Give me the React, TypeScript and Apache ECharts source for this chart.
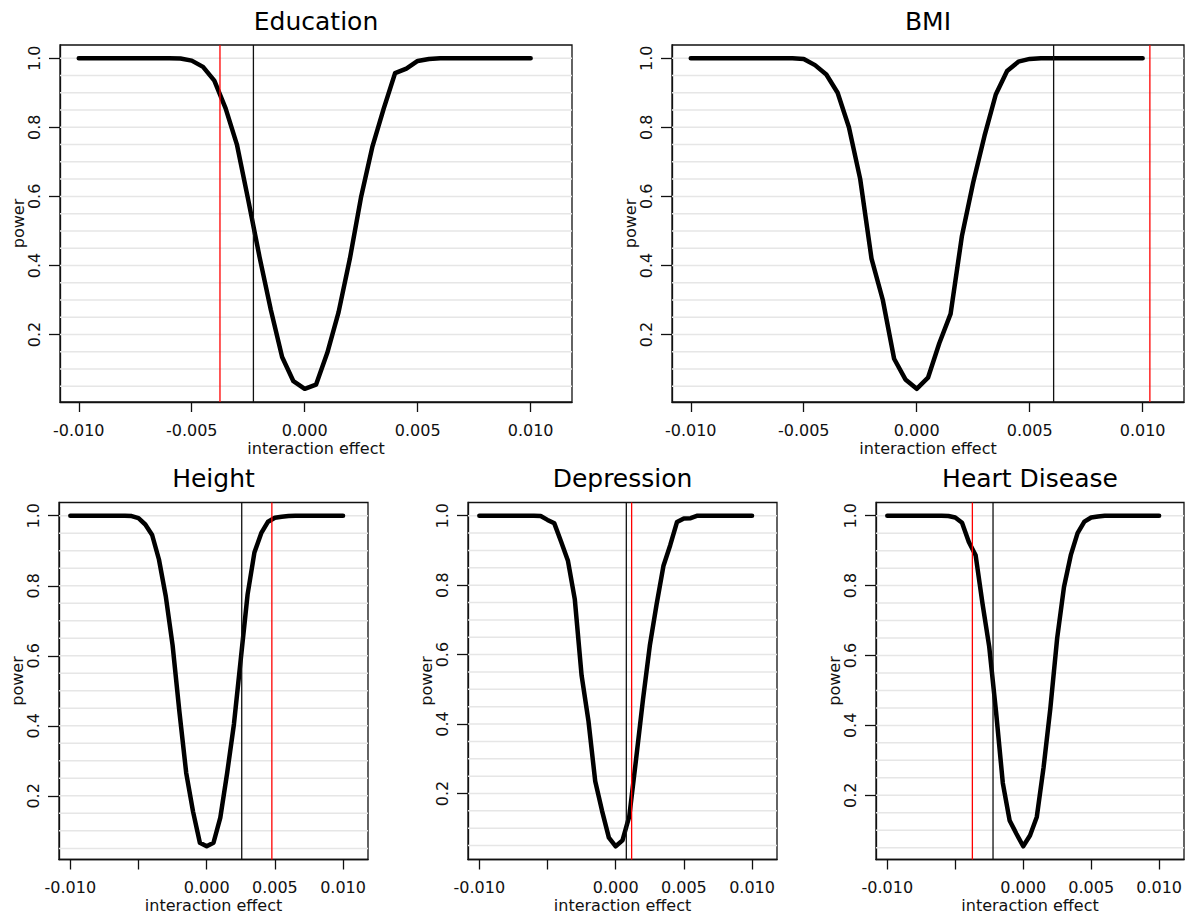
import React, { useEffect, useRef } from "react";
import * as echarts from "echarts";

// interaction effect grid (x values of every curve)
const effects = [
  -0.01, -0.0095, -0.009, -0.0085, -0.008, -0.0075, -0.007, -0.0065, -0.006, -0.0055,
  -0.005, -0.0045, -0.004, -0.0035, -0.003, -0.0025, -0.002, -0.0015, -0.001, -0.0005,
  0,
  0.0005, 0.001, 0.0015, 0.002, 0.0025, 0.003, 0.0035, 0.004, 0.0045, 0.005,
  0.0055, 0.006, 0.0065, 0.007, 0.0075, 0.008, 0.0085, 0.009, 0.0095, 0.01,
];

const educationPower = [
  1, 1, 1, 1, 1, 1, 1, 1, 1, 0.999,
  0.993, 0.975, 0.935, 0.855, 0.75, 0.59, 0.425, 0.272, 0.135, 0.065,
  0.043,
  0.055, 0.147, 0.265, 0.42, 0.6, 0.745, 0.855, 0.957, 0.97, 0.992,
  0.998, 1, 1, 1, 1, 1, 1, 1, 1, 1,
];
const bmiPower = [
  1, 1, 1, 1, 1, 1, 1, 1, 1, 1,
  0.998, 0.98, 0.953, 0.9, 0.8, 0.65, 0.42, 0.3, 0.13, 0.07,
  0.043,
  0.075, 0.175, 0.26, 0.485, 0.64, 0.775, 0.895, 0.963, 0.99, 0.998,
  1, 1, 1, 1, 1, 1, 1, 1, 1, 1,
];
const heightPower = [
  1, 1, 1, 1, 1, 1, 1, 1, 1, 0.999,
  0.993, 0.975, 0.945, 0.875, 0.77, 0.63, 0.44, 0.265, 0.155, 0.066,
  0.056,
  0.066, 0.138, 0.265, 0.405, 0.59, 0.775, 0.895, 0.95, 0.983, 0.994,
  0.997, 0.999, 1, 1, 1, 1, 1, 1, 1, 1,
];
const depressionPower = [
  1, 1, 1, 1, 1, 1, 1, 1, 1, 0.999,
  0.988, 0.978, 0.925, 0.87, 0.76, 0.54, 0.41, 0.235, 0.15, 0.073,
  0.048,
  0.065, 0.135, 0.3, 0.47, 0.625, 0.745, 0.855, 0.915, 0.982, 0.992,
  0.993, 1, 1, 1, 1, 1, 1, 1, 1, 1,
];
const heartPower = [
  1, 1, 1, 1, 1, 1, 1, 1, 1, 0.999,
  0.995, 0.98, 0.925, 0.887, 0.75, 0.625, 0.44, 0.235, 0.128, 0.09,
  0.054,
  0.085, 0.138, 0.28, 0.45, 0.65, 0.796, 0.887, 0.95, 0.983, 0.995,
  0.998, 1, 1, 1, 1, 1, 1, 1, 1, 1,
];

const titles = ["Education", "BMI", "Height", "Depression", "Heart Disease"];
const powers = [educationPower, bmiPower, heightPower, depressionPower, heartPower];
const blackLines = [-0.00227, 0.00606, 0.00257, 0.00078, -0.00222];
const redLines = [-0.00375, 0.01032, 0.00478, 0.00117, -0.00374];

const xTicks = [-0.01, -0.005, 0, 0.005, 0.01];
const xTickLabelsBottom = [-0.01, 0, 0.005, 0.01];
const yTicks = [0.2, 0.4, 0.6, 0.8, 1.0];
const gridValues = [
  0.05, 0.1, 0.15, 0.2, 0.25, 0.3, 0.35, 0.4, 0.45, 0.5,
  0.55, 0.6, 0.65, 0.7, 0.75, 0.8, 0.85, 0.9, 0.95, 1.0,
];
const xAxisTitle = "interaction effect";
const yAxisTitle = "power";

const X_MIN = -0.01083;
const X_MAX = 0.01183;

// layout: [left, top, width, height] of each plot box
const layouts = [
  [60, 45, 512, 357],
  [672, 45, 512, 357],
  [59, 502.5, 309, 357],
  [468, 502.5, 309, 357],
  [876, 502.5, 308, 357],
];

const FONT = "DejaVu Sans";
const INK = "#111";

function buildOption() {
  const grids: any[] = [];
  const xAxes: any[] = [];
  const yAxes: any[] = [];
  const series: any[] = [];
  const graphics: any[] = [];

  titles.forEach((title, i) => {
    const [l, t, w, h] = layouts[i];
    const p = powers[i];
    const pMin = Math.min(...p);
    const pMax = Math.max(...p);
    const pr = pMax - pMin;
    const yLo = pMin - 0.04 * pr;
    const yHi = pMax + 0.04 * pr;
    grids.push({
      left: l,
      top: t,
      width: w,
      height: h,
      show: true,
      borderColor: INK,
      borderWidth: 1.3,
      backgroundColor: "transparent",
      containLabel: false,
      outerBoundsMode: "none",
    });
    xAxes.push({
      type: "value",
      gridIndex: i,
      min: X_MIN,
      max: X_MAX,
      position: "bottom",
      axisLine: { show: true, onZero: false, lineStyle: { color: INK, width: 1.3 } },
      axisTick: {
        show: true,
        customValues: xTicks,
        length: 10,
        inside: false,
        lineStyle: { color: INK, width: 1.3 },
      },
      axisLabel: {
        show: true,
        customValues: i >= 2 ? xTickLabelsBottom : xTicks,
        formatter: (v: number) => v.toFixed(3),
        margin: 20,
        fontFamily: FONT,
        fontSize: 16,
        color: INK,
      },
      splitLine: { show: false },
    });
    yAxes.push({
      type: "value",
      gridIndex: i,
      min: yLo,
      max: yHi,
      position: "left",
      axisLine: { show: true, onZero: false, lineStyle: { color: INK, width: 1.3 } },
      axisTick: {
        show: true,
        customValues: yTicks,
        length: 11,
        inside: false,
        lineStyle: { color: INK, width: 1.3 },
      },
      axisLabel: {
        show: true,
        customValues: yTicks,
        rotate: 90,
        formatter: (v: number) => v.toFixed(1),
        margin: 18,
        fontFamily: FONT,
        fontSize: 16,
        color: INK,
      },
      splitLine: { show: false },
    });

    gridValues.forEach((g) => {
      series.push({
        type: "line",
        xAxisIndex: i,
        yAxisIndex: i,
        data: [
          [X_MIN, g],
          [X_MAX, g],
        ],
        symbol: "none",
        silent: true,
        z: 1,
        lineStyle: { color: "#e6e6e6", width: 1.5 },
      });
    });

    series.push({
      type: "line",
      xAxisIndex: i,
      yAxisIndex: i,
      data: effects.map((x, k) => [x, p[k]]),
      symbol: "none",
      showSymbol: false,
      silent: true,
      z: 3,
      lineStyle: { color: "#000", width: 4.5, cap: "round", join: "round" },
    });

    series.push({
      type: "line",
      xAxisIndex: i,
      yAxisIndex: i,
      data: [
        [blackLines[i], yLo],
        [blackLines[i], yHi],
      ],
      symbol: "none",
      silent: true,
      z: 4,
      lineStyle: { color: INK, width: 1.3 },
    });
    series.push({
      type: "line",
      xAxisIndex: i,
      yAxisIndex: i,
      data: [
        [redLines[i], yLo],
        [redLines[i], yHi],
      ],
      symbol: "none",
      silent: true,
      z: 4,
      lineStyle: { color: "#ff0000", width: 1.3 },
    });

    const cx = l + w / 2;
    graphics.push({
      type: "text",
      x: cx,
      y: t - 24,
      style: {
        text: title,
        fill: "#000",
        font: `25px "${FONT}"`,
        textAlign: "center",
        textVerticalAlign: "middle",
      },
    });
    graphics.push({
      type: "text",
      x: cx,
      y: t + h + 46,
      style: {
        text: xAxisTitle,
        fill: INK,
        font: `16px "${FONT}"`,
        textAlign: "center",
        textVerticalAlign: "middle",
      },
    });
    graphics.push({
      type: "text",
      x: l - 41.5,
      y: t + h / 2,
      rotation: Math.PI / 2,
      style: {
        text: yAxisTitle,
        fill: INK,
        font: `16px "${FONT}"`,
        textAlign: "center",
        textVerticalAlign: "middle",
      },
    });
  });

  return {
    animation: false,
    backgroundColor: "#fff",
    grid: grids,
    xAxis: xAxes,
    yAxis: yAxes,
    series,
    graphic: graphics,
  };
}

export default function App() {
  const ref = useRef<HTMLDivElement>(null);
  useEffect(() => {
    if (!ref.current) return;
    const chart = echarts.init(ref.current, undefined, { renderer: "svg" });
    chart.setOption(buildOption() as any);
    return () => chart.dispose();
  }, []);
  return (
    <div
      ref={ref}
      style={{ position: "fixed", left: 0, top: 0, width: 1186, height: 919, background: "#fff" }}
    />
  );
}
